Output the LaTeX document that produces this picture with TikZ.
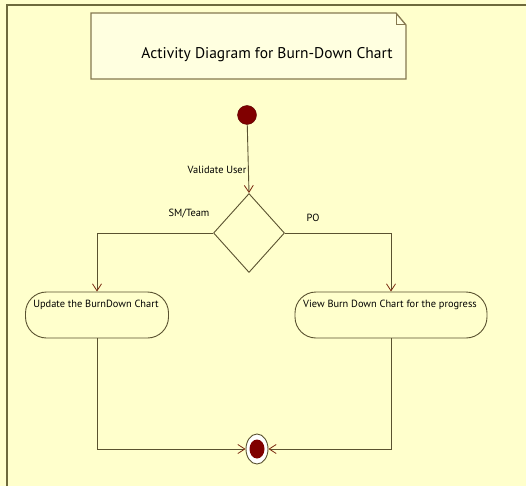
\documentclass[tikz,border=0pt]{standalone}
\usepackage{fontspec}
\setmainfont{PT Sans}
\usetikzlibrary{arrows.meta,shapes.geometric}
\definecolor{bgyel}{HTML}{FFFFCC}
\definecolor{frameol}{HTML}{6E6A3C}
\definecolor{lineol}{HTML}{5A5230}
\definecolor{tipred}{HTML}{7A2A10}
\definecolor{maroon}{HTML}{800000}
\definecolor{noteed}{HTML}{857850}
\tikzset{
  arr/.style={draw=lineol, line width=0.9pt, -{Straight Barb[length=7pt,width=9pt,color=tipred,line width=0.8pt]}},
  actbox/.style={draw=lineol, line width=0.9pt, rounded corners=21pt, minimum width=143pt, minimum height=46pt, inner sep=0pt},
  lbl/.style={font=\fontsize{10.4}{12}\selectfont, text=black, inner sep=0pt},
}
\begin{document}
\begin{tikzpicture}[x=1pt,y=-1pt]
\fill[bgyel] (0,0) rectangle (526,486);
\useasboundingbox (0,0) rectangle (526,486);
% frame
\draw[frameol, line width=2pt] (7,486) -- (7,5.5) -- (526,5.5);
% note
\draw[noteed, line width=1.3pt, fill=bgyel!60!white] (91,13) -- (396,13) -- (406,25) -- (406,79) -- (91,79) -- cycle;
\draw[noteed, line width=1pt] (396,13) -- (396,25) -- (406,25);
\node[font=\fontsize{15.5}{18}\selectfont, inner sep=0pt] (title) at (267,55) {Activity Diagram for Burn-Down Chart};
% initial
\node[circle, fill=maroon, draw=maroon!70!black, minimum size=19pt, inner sep=0pt] (init) at (247,115) {};
% decision
\node[diamond, draw=lineol, line width=0.9pt, minimum width=71pt, minimum height=79pt, inner sep=0pt] (dia) at (249,233) {};
% activities
\node[actbox] (act1) at (97,315) {};
\node[actbox, minimum width=192pt] (act2) at (391,315) {};
\node[lbl] (t1) at (96,305) {Update the BurnDown Chart};
\node[lbl] (t2) at (390,305) {View Burn Down Chart for the progress};
% final
\node[ellipse, draw=lineol, fill=white, line width=0.9pt, minimum width=22pt, minimum height=30pt, inner sep=0pt] (final) at (257,449) {};
\node[ellipse, fill=maroon, minimum width=15pt, minimum height=19pt, inner sep=0pt] (finalin) at (257,449) {};
% connectors
\draw[arr] (init) -- (dia.north);
\draw[arr] (dia.west) -| (act1.north);
\draw[arr] (dia.east) -| (act2.north);
\draw[arr] (act1.south) |- (final.west);
\draw[arr] (act2.south) |- (final.east);
% labels
\node[lbl] (l1) at (217,170) {Validate User};
\node[lbl] (l2) at (189,214) {SM/Team};
\node[lbl] (l3) at (313,218) {PO};
\end{tikzpicture}
\end{document}
